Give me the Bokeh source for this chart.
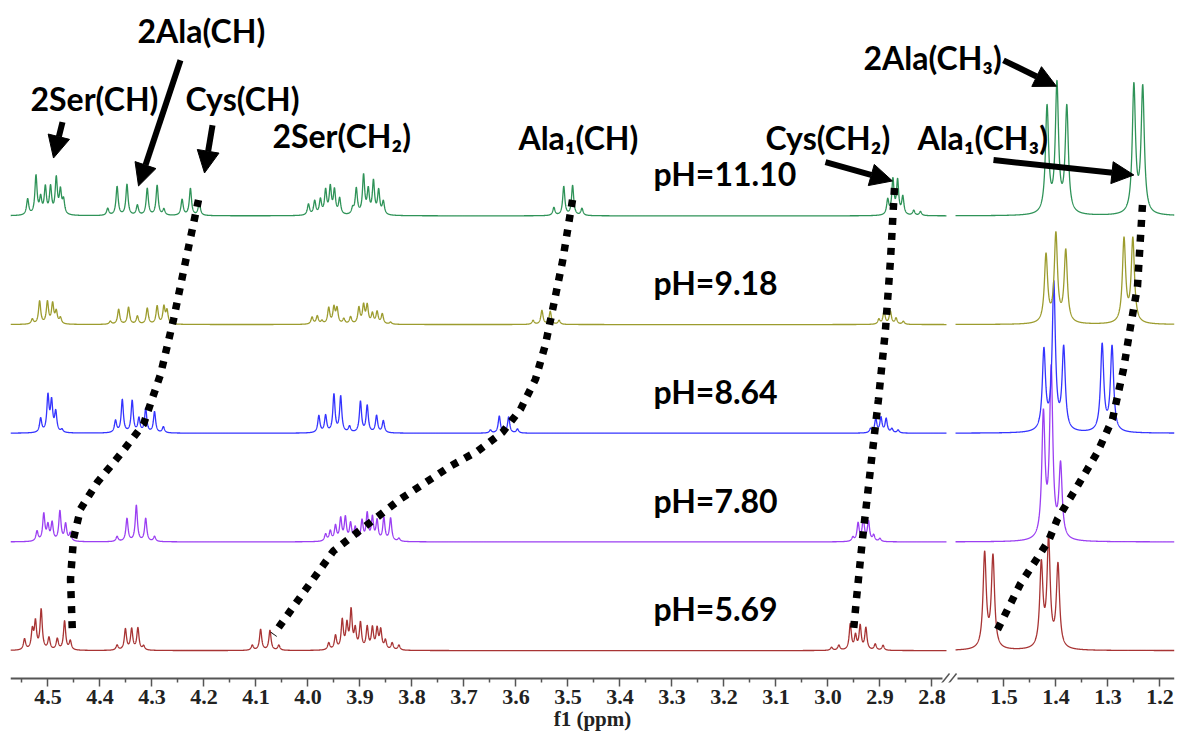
import numpy as np
from bokeh.plotting import figure
from bokeh.models import Range1d, FixedTicker, CustomJSTickFormatter, Arrow, NormalHead
from bokeh.core.properties import value
from bokeh.embed import file_html
from bokeh.resources import INLINE

# ---------------- data ----------------
ph_labels = ["pH=5.69", "pH=7.80", "pH=8.64", "pH=9.18", "pH=11.10"]
offsets = [0, 109, 218, 327, 436]
colors = ["#a83434", "#9b3ff2", "#3434ff", "#9c9c2e", "#2f9358"]

# left panel (4.57 - 2.77 ppm): peak positions (ppm) and heights
red_left_ppm = [4.545, 4.530, 4.524, 4.513, 4.498, 4.482, 4.468, 4.457,
                4.367, 4.351, 4.339, 4.327, 4.316,
                4.107, 4.091, 4.073, 4.056,
                3.960, 3.947, 3.934, 3.925, 3.917, 3.909, 3.899, 3.886, 3.876, 3.867, 3.860, 3.851, 3.838, 3.825,
                2.993, 2.979, 2.957, 2.947, 2.938, 2.927, 2.909, 2.894]
red_left_int = [11, 19, 27, 40, 12, 11, 29, 9,
                5, 21, 21, 22, 4,
                5, 21, 20, 5,
                7, 14, 29, 24, 38, 19, 26, 22, 21, 20, 19, 9, 7, 5,
                3, 5, 26, 14, 24, 22, 6, 5]

purple_left_ppm = [4.521, 4.508, 4.500, 4.492, 4.477, 4.466, 4.457,
                   4.367, 4.348, 4.330, 4.312, 4.295,
                   3.966, 3.957, 3.947, 3.937, 3.928, 3.918, 3.909, 3.896, 3.886, 3.876, 3.867, 3.854, 3.841, 3.825,
                   2.952, 2.942, 2.932, 2.922, 2.912, 2.900]
purple_left_int = [10, 27, 15, 18, 30, 17, 8,
                   5, 23, 36, 23, 5,
                   7, 10, 15, 22, 23, 17, 13, 20, 27, 23, 20, 23, 23, 3,
                   4, 18, 22, 20, 6, 3]

blue_left_ppm = [4.514, 4.500, 4.493, 4.485, 4.473,
                 4.370, 4.357, 4.338, 4.325, 4.312, 4.295, 4.278,
                 3.979, 3.966, 3.950, 3.937, 3.920, 3.899, 3.886, 3.868, 3.855,
                 3.649, 3.632, 3.614, 3.597,
                 2.918, 2.908, 2.898, 2.888, 2.877, 2.865]
blue_left_int = [14, 36, 30, 20, 3,
                 12, 33, 32, 14, 24, 21, 6,
                 17, 17, 38, 36, 6, 31, 27, 17, 12,
                 3, 17, 16, 4,
                 4, 14, 15, 14, 4, 3]

olive_left_ppm = [4.530, 4.516, 4.501, 4.491, 4.484, 4.476,
                  4.380, 4.364, 4.345, 4.328, 4.309, 4.290, 4.277, 4.271,
                  3.992, 3.982, 3.973, 3.960, 3.950, 3.944, 3.931, 3.918, 3.902, 3.893, 3.886, 3.876, 3.867, 3.857, 3.841,
                  3.567, 3.550, 3.534, 3.517,
                  2.902, 2.892, 2.880, 2.869, 2.855]
olive_left_int = [5, 23, 22, 20, 12, 6,
                  3, 15, 17, 8, 16, 18, 17, 13,
                  7, 8, 3, 16, 16, 15, 5, 7, 16, 18, 18, 10, 12, 10, 2,
                  4, 14, 13, 4,
                  5, 13, 13, 6, 3]

green_left_ppm = [4.539, 4.523, 4.514, 4.505, 4.495, 4.484, 4.476, 4.470,
                  4.385, 4.367, 4.348, 4.328, 4.309, 4.290, 4.277,
                  4.242, 4.226, 4.209,
                  3.999, 3.987, 3.976, 3.966, 3.957, 3.949, 3.939, 3.914, 3.907, 3.893, 3.884, 3.874, 3.864, 3.855,
                  3.527, 3.508, 3.491, 3.473,
                  2.885, 2.875, 2.866, 2.856, 2.835, 2.822]
green_left_int = [16, 39, 16, 27, 27, 36, 23, 14,
                  7, 29, 31, 10, 27, 30, 6,
                  16, 27, 13,
                  11, 14, 15, 24, 27, 24, 16, 6, 26, 39, 24, 33, 24, 13,
                  8, 29, 30, 7,
                  15, 35, 34, 18, 5, 4]

# right panel (1.59 - 1.17 ppm)
red_right_ppm = [1.537, 1.521, 1.428, 1.414, 1.396]
red_right_int = [95, 92, 83, 107, 83]
purple_right_ppm = [1.424, 1.409, 1.391]
purple_right_int = [123, 168, 73]
blue_right_ppm = [1.423, 1.404, 1.385, 1.311, 1.292]
blue_right_int = [80, 147, 82, 87, 85]
olive_right_ppm = [1.419, 1.400, 1.381, 1.269, 1.252]
olive_right_int = [68, 88, 72, 84, 84]
green_right_ppm = [1.417, 1.398, 1.379, 1.250, 1.233]
green_right_int = [106, 128, 106, 128, 126]

# dotted correlation paths (ppm, stacked height)
cys_ch_path_ppm = [4.2105, 4.2355, 4.2585, 4.2835, 4.3162, 4.3605, 4.4047, 4.4374, 4.4509, 4.4566, 4.4528]
cys_ch_path_y = [452, 390, 332, 277, 227, 197, 169, 142, 112, 72, 16]
ala1_ch_path_ppm = [3.4912, 3.5105, 3.5432, 3.5625, 3.5912, 3.6258, 3.6739, 3.7258, 3.8220, 3.9508, 4.0143, 4.0662]
ala1_ch_path_y = [452, 390, 307, 272, 242, 219, 200, 185, 152, 100, 54, 16]
cys_ch2_path_ppm = [2.872, 2.8797, 2.8893, 2.9028, 2.9182, 2.9335, 2.9451, 2.9508]
cys_ch2_path_y = [464, 392, 322, 252, 182, 112, 52, 20]
ala1_ch3_path_ppm = [1.2335, 1.2431, 1.2565, 1.270, 1.2912, 1.320, 1.3585, 1.3969, 1.4142, 1.4681, 1.5162]
ala1_ch3_path_y = [447, 365, 325, 282, 232, 199, 165, 132, 110, 67, 17]

compound_labels = ["2Ala(CH)", "2Ser(CH)", "Cys(CH)", "2Ser(CH\u2082)", "Ala\u2081(CH)",
                   "Cys(CH\u2082)", "Ala\u2081(CH\u2083)", "2Ala(CH\u2083)"]

major_left = [4.5, 4.4, 4.3, 4.2, 4.1, 4.0, 3.9, 3.8, 3.7, 3.6, 3.5, 3.4, 3.3, 3.2, 3.1, 3.0, 2.9, 2.8]
minor_left = [4.55, 4.45, 4.35, 4.25, 4.15, 4.05, 3.95, 3.85, 3.75, 3.65, 3.55, 3.45, 3.35, 3.25,
              3.15, 3.05, 2.95, 2.85]
major_right = [1.5, 1.4, 1.3, 1.2]
minor_right = [1.55, 1.45, 1.35, 1.25]

# ---------------- layout constants ----------------
SHIFT = 1.1616          # right-panel ppm -> main coordinate
X_START, X_END = 4.572, 2.3335
LEFT_LIM = (4.572, 2.772)
RIGHT_LIM = (1.593, 1.172)
W_LEFT, W_RIGHT = 0.0025, 0.0037

p = figure(width=1181, height=733, x_range=Range1d(X_START, X_END), y_range=Range1d(-32, 652),
           output_backend="svg", toolbar_location=None, y_axis_location=None,
           min_border_left=10, min_border_right=7, min_border_top=0, min_border_bottom=49)
p.extra_x_ranges = {"right": Range1d(X_START - SHIFT, X_END - SHIFT)}
p.grid.visible = False
p.outline_line_color = None
p.background_fill_color = "white"


def spectrum(grid, ppm, inten, w):
    c = np.asarray(ppm)[:, None]
    h = np.asarray(inten, dtype=float)[:, None]
    return (h / (1.0 + ((grid[None, :] - c) / w) ** 2)).sum(axis=0)


grid_l = np.linspace(LEFT_LIM[0], LEFT_LIM[1], 6000)
grid_r = np.linspace(RIGHT_LIM[0], RIGHT_LIM[1], 2200)

left_sets = [(red_left_ppm, red_left_int), (purple_left_ppm, purple_left_int), (blue_left_ppm, blue_left_int),
             (olive_left_ppm, olive_left_int), (green_left_ppm, green_left_int)]
right_sets = [(red_right_ppm, red_right_int), (purple_right_ppm, purple_right_int),
              (blue_right_ppm, blue_right_int), (olive_right_ppm, olive_right_int),
              (green_right_ppm, green_right_int)]

for i in range(5):
    off, col = offsets[i], colors[i]
    yl = off + spectrum(grid_l, left_sets[i][0], left_sets[i][1], W_LEFT)
    p.line(grid_l, yl, line_color=col, line_width=1.3)
    yr = off + spectrum(grid_r, right_sets[i][0], right_sets[i][1], W_RIGHT)
    p.line(grid_r, yr, line_color=col, line_width=1.3, x_range_name="right")

# axis line (broken) and break marks
p.line([4.572, 2.7797], [-28, -28], line_color="#555555", line_width=2)
p.line([1.5892, 1.172], [-28, -28], line_color="#555555", line_width=2, x_range_name="right")
p.segment(x0=[2.7816, 2.7681], y0=[-33, -33], x1=[2.7662, 2.7527], y1=[-23, -23],
          line_color="#555555", line_width=1.5)

# dotted correlation lines
dot = dict(line_color="black", line_width=7.5, line_dash="7 8", line_cap="butt")
p.line(cys_ch_path_ppm, cys_ch_path_y, **dot)
p.line(ala1_ch_path_ppm, ala1_ch_path_y, **dot)
p.line(cys_ch2_path_ppm, cys_ch2_path_y, **dot)
p.line(ala1_ch3_path_ppm, ala1_ch3_path_y, x_range_name="right", **dot)

# arrows
def arrow(xs, ys, xe, ye, rng="default"):
    a = Arrow(end=NormalHead(size=22, fill_color="black", line_color="black", line_width=1),
              x_start=xs, y_start=ys, x_end=xe, y_end=ye, line_color="black", line_width=6,
              x_range_name=rng)
    p.add_layout(a)

arrow(4.472, 530, 4.4893, 494)
arrow(4.2451, 592, 4.3258, 466)
arrow(4.1835, 527, 4.1989, 479)
arrow(3.0047, 490, 2.8759, 471)
arrow(1.5008, 592, 1.399, 566, "right")
arrow(1.520, 492, 1.250, 477, "right")

# text labels
lab_x = [4.3278, 4.5335, 4.2355, 4.0682, 3.5951, 3.1201, 2.8278, 2.9317]
lab_y = [622, 554, 554, 517, 515, 515, 515, 595]
txt = dict(text_font=value("Lato"), text_font_style="bold", text_font_size="32px",
           text_baseline="middle", text_align="left", text_color="black")
p.text(x=lab_x, y=lab_y, text=compound_labels, **txt)
p.text(x=[3.3355] * 5, y=[o + 42 for o in offsets], text=ph_labels, **txt)

# x axis
ax = p.xaxis[0]
ax.ticker = FixedTicker(ticks=major_left + [v + SHIFT for v in major_right],
                        minor_ticks=minor_left + [v + SHIFT for v in minor_right])
ax.formatter = CustomJSTickFormatter(args=dict(shift=SHIFT, brk=2.76),
                                     code="return (tick > brk ? tick : tick - shift).toFixed(1);")
ax.axis_line_color = None
ax.major_tick_in = 4
ax.major_tick_out = 4
ax.minor_tick_in = 4
ax.minor_tick_out = 0
ax.major_tick_line_color = "#555555"
ax.minor_tick_line_color = "#555555"
ax.major_tick_line_width = 1.5
ax.minor_tick_line_width = 1.5
ax.major_label_text_font = "Liberation Serif"
ax.major_label_text_font_style = "bold"
ax.major_label_text_font_size = "22px"
ax.major_label_text_color = "#222222"
ax.major_label_standoff = 3
ax.axis_label = "f1 (ppm)"
ax.axis_label_text_font = "Liberation Serif"
ax.axis_label_text_font_style = "bold"
ax.axis_label_text_font_size = "21px"
ax.axis_label_text_color = "#222222"
ax.axis_label_standoff = 0

open("out.html", "w").write(file_html(p, INLINE))
